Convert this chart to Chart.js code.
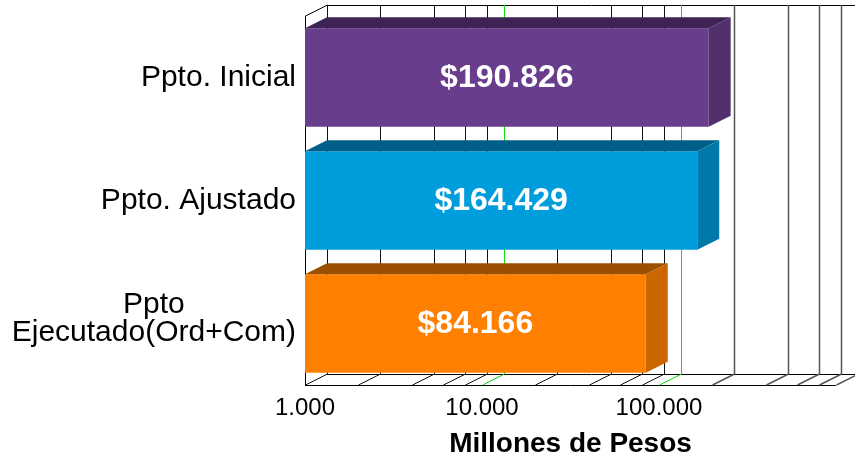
<!DOCTYPE html>
<html>
<head>
<meta charset="utf-8">
<script src="https://cdn.jsdelivr.net/npm/chart.js@4"></script>
<style>
  html, body { margin: 0; padding: 0; background: #fff; }
</style>
</head>
<body>
<canvas id="presupuestoChart" width="855" height="461"></canvas>
<script>
// Datos del grafico
const categorias = [['Ppto. Inicial'], ['Ppto. Ajustado'], ['Ppto', 'Ejecutado(Ord+Com)']];
const valores = [190826, 164429, 84166];
const coloresFrente = ['#683d8b', '#009ddc', '#ff8000'];
const coloresTapa = ['#3e2354', '#005f88', '#9b4f00'];
const coloresLado = ['#522f6d', '#0078a9', '#cc6600'];
const ticksEje = [1000, 10000, 100000];
const etiquetasEje = ['1.000', '10.000', '100.000'];
const lineasFondo = [1000, 2000, 4000, 6000, 8000, 10000, 20000, 40000, 60000, 80000,
  100000, 200000, 400000, 600000, 800000, 1000000];
const lineasVerdes = [10000, 100000];
const tituloEje = 'Millones de Pesos';

const FUENTE = '"Liberation Sans", Arial, sans-serif';
const DX = 22;   // profundidad 3D
const DY = -11;

function formatoMiles(n) {
  return String(n).replace(/\B(?=(\d{3})+(?!\d))/g, '.');
}

// Paredes, piso y lineas de fondo
const fondo3d = {
  id: 'fondo3d',
  beforeDatasetsDraw(chart) {
    const { ctx, chartArea: a, scales: { x } } = chart;
    ctx.save();
    ctx.lineWidth = 1;
    ctx.strokeStyle = '#000';

    ctx.beginPath();
    // piso
    ctx.moveTo(a.left, a.bottom + 0.5);
    ctx.lineTo(a.right, a.bottom + 0.5);
    ctx.moveTo(a.left + DX, a.bottom + DY + 0.5);
    ctx.lineTo(a.right + DX, a.bottom + DY + 0.5);
    // borde superior de la pared del fondo
    ctx.moveTo(a.left + DX, a.top + DY + 0.5);
    ctx.lineTo(a.right + DX, a.top + DY + 0.5);
    // pared izquierda
    ctx.moveTo(a.left + 0.5, a.bottom);
    ctx.lineTo(a.left + 0.5, a.top);
    ctx.lineTo(a.left + DX + 0.5, a.top + DY);
    ctx.stroke();

    lineasFondo.forEach(v => {
      const px = Math.round(x.getPixelForValue(v)) + 0.5;
      const verde = lineasVerdes.includes(v);
      ctx.strokeStyle = verde ? '#11dd11' : (v > 150000 ? '#555' : '#111');
      ctx.lineWidth = v > 150000 ? 1.5 : 1;
      ctx.beginPath();
      ctx.moveTo(px + DX, a.top + DY);
      ctx.lineTo(px + DX, a.bottom + DY);
      ctx.moveTo(px, a.bottom);
      ctx.lineTo(px + DX, a.bottom + DY);
      ctx.stroke();
    });
    ctx.restore();
  }
};

// Caras superiores y laterales de las barras, y etiquetas de valor
const barras3d = {
  id: 'barras3d',
  afterDatasetsDraw(chart) {
    const { ctx } = chart;
    const meta = chart.getDatasetMeta(0);
    ctx.save();
    meta.data.forEach((bar, i) => {
      const { x, y, base, height } = bar.getProps(['x', 'y', 'base', 'height'], true);
      const top = y - height / 2;
      const bottom = y + height / 2;

      ctx.fillStyle = coloresTapa[i];
      ctx.beginPath();
      ctx.moveTo(base, top);
      ctx.lineTo(x, top);
      ctx.lineTo(x + DX, top + DY);
      ctx.lineTo(base + DX, top + DY);
      ctx.closePath();
      ctx.fill();

      ctx.fillStyle = coloresLado[i];
      ctx.beginPath();
      ctx.moveTo(x, top);
      ctx.lineTo(x + DX, top + DY);
      ctx.lineTo(x + DX, bottom + DY);
      ctx.lineTo(x, bottom);
      ctx.closePath();
      ctx.fill();

      ctx.fillStyle = '#fff';
      ctx.font = 'bold 32px ' + FUENTE;
      ctx.textAlign = 'center';
      ctx.textBaseline = 'middle';
      ctx.fillText('$' + formatoMiles(valores[i]), (base + x) / 2, y + 1);
    });
    ctx.restore();
  },
  afterDraw(chart) {
    const { ctx, scales: { y } } = chart;
    ctx.save();
    ctx.fillStyle = '#000';
    ctx.font = '30px ' + FUENTE;
    ctx.textAlign = 'center';
    ctx.textBaseline = 'middle';
    const derecha = 296;
    const alto = 28;
    categorias.forEach((lineas, i) => {
      const cy = y.getPixelForValue(i);
      const ancho = Math.max(...lineas.map(l => ctx.measureText(l).width));
      const cx = derecha - ancho / 2;
      const y0 = cy - (lineas.length - 1) * alto / 2 - (lineas.length > 1 ? 5 : 0);
      lineas.forEach((l, k) => ctx.fillText(l, cx, y0 + k * alto));
    });
    ctx.restore();
  }
};

new Chart(document.getElementById('presupuestoChart'), {
  type: 'bar',
  data: {
    labels: categorias.map(c => c.join(' ')),
    datasets: [{
      data: valores,
      backgroundColor: coloresFrente,
      borderWidth: 0,
      barPercentage: 0.8,
      categoryPercentage: 1.0
    }]
  },
  options: {
    indexAxis: 'y',
    responsive: false,
    devicePixelRatio: 1,
    animation: false,
    layout: { padding: { left: 305, right: 19, top: 16, bottom: 0 } },
    plugins: {
      legend: { display: false },
      tooltip: { enabled: false }
    },
    scales: {
      x: {
        type: 'logarithmic',
        position: 'bottom',
        min: 1000,
        max: 1000000,
        grid: { display: false, drawTicks: false },
        border: { display: false },
        afterBuildTicks: s => { s.ticks = ticksEje.map(v => ({ value: v })); },
        afterFit: s => { s.height = 76; },
        ticks: {
          autoSkip: false,
          maxRotation: 0,
          padding: 9,
          color: '#000',
          font: { family: FUENTE, size: 24 },
          callback: v => {
            const i = ticksEje.indexOf(v);
            return i >= 0 ? etiquetasEje[i] : '';
          }
        },
        title: {
          display: true,
          text: tituloEje,
          color: '#000',
          font: { family: FUENTE, size: 28, weight: 'bold' },
          padding: { top: 0, bottom: 0 }
        }
      },
      y: {
        type: 'category',
        display: false
      }
    }
  },
  plugins: [fondo3d, barras3d]
});
</script>
</body>
</html>
